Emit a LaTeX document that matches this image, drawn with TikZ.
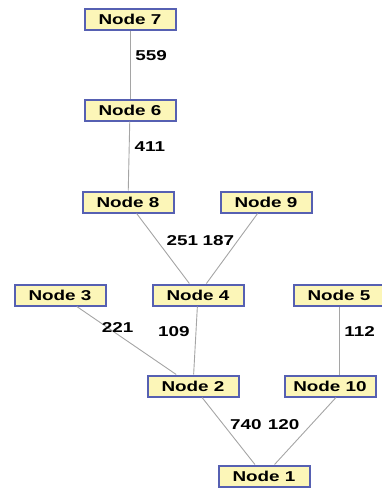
\documentclass[tikz,border=0pt]{standalone}
\usepackage{fontspec}
\setmainfont{Liberation Sans}[FakeStretch=1.32]
\definecolor{boxfill}{RGB}{252,246,184}
\definecolor{boxline}{RGB}{86,96,178}
\definecolor{linkgray}{RGB}{165,165,165}

\begin{document}
\begin{tikzpicture}[x=1pt,y=-1pt,
    treenode/.style={draw=boxline, fill=boxfill, line width=2pt,
      minimum width=91pt, minimum height=21pt, inner sep=0pt,
      font=\fontsize{14.3}{16}\selectfont\bfseries},
    link/.style={draw=linkgray, line width=0.9pt},
    weight/.style={font=\fontsize{14.3}{16}\selectfont\bfseries, inner sep=1pt}]
    \useasboundingbox (0,0) rectangle (381,488);

    % Upper chain
    \node[treenode] (n7) at (130,19) {Node 7};
    \node[treenode] (n6) at (130,110) {Node 6};
    \node[treenode] (n8) at (128,202) {Node 8};
    \node[treenode] (n9) at (266,202) {Node 9};

    % Middle row
    \node[treenode] (n3) at (60,295) {Node 3};
    \node[treenode] (n4) at (198,295) {Node 4};
    \node[treenode] (n5) at (339,295) {Node 5};

    % Lower rows
    \node[treenode] (n2) at (193,386) {Node 2};
    \node[treenode] (n10) at (330,386) {Node 10};
    \node[treenode] (n1) at (264,476) {Node 1};

    % Weighted links
    \draw[link] (n7) -- node[weight, pos=0.375, anchor=west, xshift=4pt] (w76) {559} (n6);
    \draw[link] (n6) -- node[weight, pos=0.37, anchor=west, xshift=4pt] (w68) {411} (n8);
    \draw[link] (n8) -- node[weight, pos=0.39, anchor=west, xshift=8pt] (w84) {251} (n4);
    \draw[link] (n9) -- node[weight, pos=0.39, anchor=east, xshift=-2pt] (w94) {187} (n4);
    \draw[link] (n3) -- node[weight, pos=0.41, yshift=7pt] (w32) {221} (n2);
    \draw[link] (n4) -- node[weight, pos=0.375, anchor=east, xshift=-5pt] (w42) {109} (n2);
    \draw[link] (n5) -- node[weight, pos=0.375, anchor=west, xshift=4pt] (w510) {112} (n5 |- n10.north);
    \draw[link] (n2) -- node[weight, pos=0.41, anchor=west, xshift=5pt] (w21) {740} (n1);
    \draw[link] ([xshift=6pt]n10.south) -- node[weight, pos=0.41, anchor=east, xshift=-10pt] (w101) {120} (n1);
\end{tikzpicture}
\end{document}
